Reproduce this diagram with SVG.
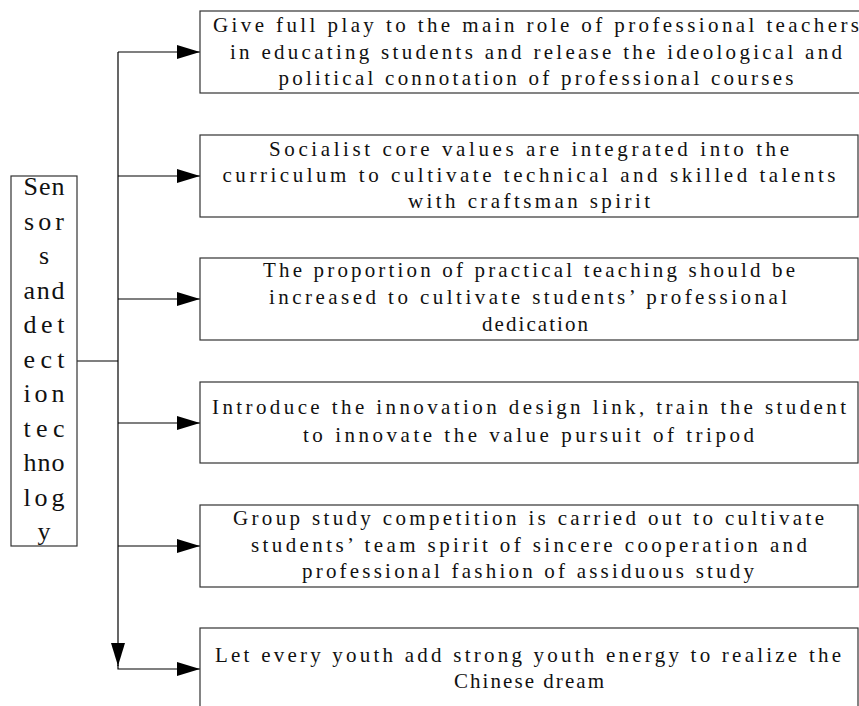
<svg xmlns="http://www.w3.org/2000/svg" width="859" height="706" viewBox="0 0 859 706">
<style>
.box{fill:#fff;stroke:#333;stroke-width:1.2}
.t{font-family:"Liberation Serif","Times New Roman",serif;font-size:21px;fill:#111;text-anchor:middle}
.s{font-family:"Liberation Serif","Times New Roman",serif;font-size:26px;fill:#111;text-anchor:middle}
.c{fill:none;stroke:#000;stroke-width:1.2}
</style>
<defs>
<marker id="ah" markerUnits="userSpaceOnUse" markerWidth="23" markerHeight="14" refX="23" refY="7" orient="auto">
<path d="M0,0 L23,7 L0,14 Z" fill="#000"/>
</marker>
</defs>
<g id="connectors">
<path class="c" d="M77,361 H118"/>
<path class="c" d="M118,52 V666" marker-end="url(#ah)"/>
<path class="c" d="M118,665 V669 H200" marker-end="url(#ah)"/>
<path class="c" d="M118,52 H200" marker-end="url(#ah)"/>
<path class="c" d="M118,176 H200" marker-end="url(#ah)"/>
<path class="c" d="M118,299 H200" marker-end="url(#ah)"/>
<path class="c" d="M118,423 H200" marker-end="url(#ah)"/>
<path class="c" d="M118,546 H200" marker-end="url(#ah)"/>
</g>
<g id="root">
<rect class="box" x="11" y="176" width="66" height="370"/>
<text class="s" x="44" y="195" textLength="41" lengthAdjust="spacing">Sen</text>
<text class="s" x="44" y="229.5" textLength="40" lengthAdjust="spacing">sor</text>
<text class="s" x="44" y="264">s</text>
<text class="s" x="44" y="298.5" textLength="41" lengthAdjust="spacing">and</text>
<text class="s" x="44" y="333" textLength="41" lengthAdjust="spacing">det</text>
<text class="s" x="44" y="367.5" textLength="41" lengthAdjust="spacing">ect</text>
<text class="s" x="44" y="402" textLength="41" lengthAdjust="spacing">ion</text>
<text class="s" x="44" y="436.5" textLength="41" lengthAdjust="spacing">tec</text>
<text class="s" x="44" y="471" textLength="41" lengthAdjust="spacing">hno</text>
<text class="s" x="44" y="505.5" textLength="41" lengthAdjust="spacing">log</text>
<text class="s" x="44" y="540">y</text>
</g>
<g id="n1">
<rect class="box" x="200" y="11" width="660" height="82"/>
<text class="t" x="536" y="32" textLength="646" lengthAdjust="spacing">Give full play to the main role of professional teachers</text>
<text class="t" x="536" y="58.5" textLength="612" lengthAdjust="spacing">in educating students and release the ideological and</text>
<text class="t" x="536" y="85" textLength="515" lengthAdjust="spacing">political connotation of professional courses</text>
</g>
<g id="n2">
<rect class="box" x="200" y="135" width="658" height="82"/>
<text class="t" x="529" y="155.5" textLength="520" lengthAdjust="spacing">Socialist core values are integrated into the</text>
<text class="t" x="529" y="182" textLength="613" lengthAdjust="spacing">curriculum to cultivate technical and skilled talents</text>
<text class="t" x="529" y="208" textLength="242" lengthAdjust="spacing">with craftsman spirit</text>
</g>
<g id="n3">
<rect class="box" x="200" y="258" width="658" height="82"/>
<text class="t" x="529" y="277" textLength="532" lengthAdjust="spacing">The proportion of practical teaching should be</text>
<text class="t" x="528" y="304" textLength="518" lengthAdjust="spacing">increased to cultivate students’ professional</text>
<text class="t" x="535" y="331" textLength="106" lengthAdjust="spacing">dedication</text>
</g>
<g id="n4">
<rect class="box" x="200" y="382" width="658" height="81"/>
<text class="t" x="529" y="414" textLength="634" lengthAdjust="spacing">Introduce the innovation design link, train the student</text>
<text class="t" x="528.5" y="441.5" textLength="451" lengthAdjust="spacing">to innovate the value pursuit of tripod</text>
</g>
<g id="n5">
<rect class="box" x="200" y="505" width="658" height="82"/>
<text class="t" x="528.5" y="525" textLength="591" lengthAdjust="spacing">Group study competition is carried out to cultivate</text>
<text class="t" x="529" y="551.5" textLength="556" lengthAdjust="spacing">students’ team spirit of sincere cooperation and</text>
<text class="t" x="528" y="578" textLength="452" lengthAdjust="spacing">professional fashion of assiduous study</text>
</g>
<g id="n6">
<rect class="box" x="200" y="628" width="658" height="100"/>
<text class="t" x="528" y="662" textLength="626" lengthAdjust="spacing">Let every youth add strong youth energy to realize the</text>
<text class="t" x="529" y="688" textLength="150" lengthAdjust="spacing">Chinese dream</text>
</g>
</svg>
